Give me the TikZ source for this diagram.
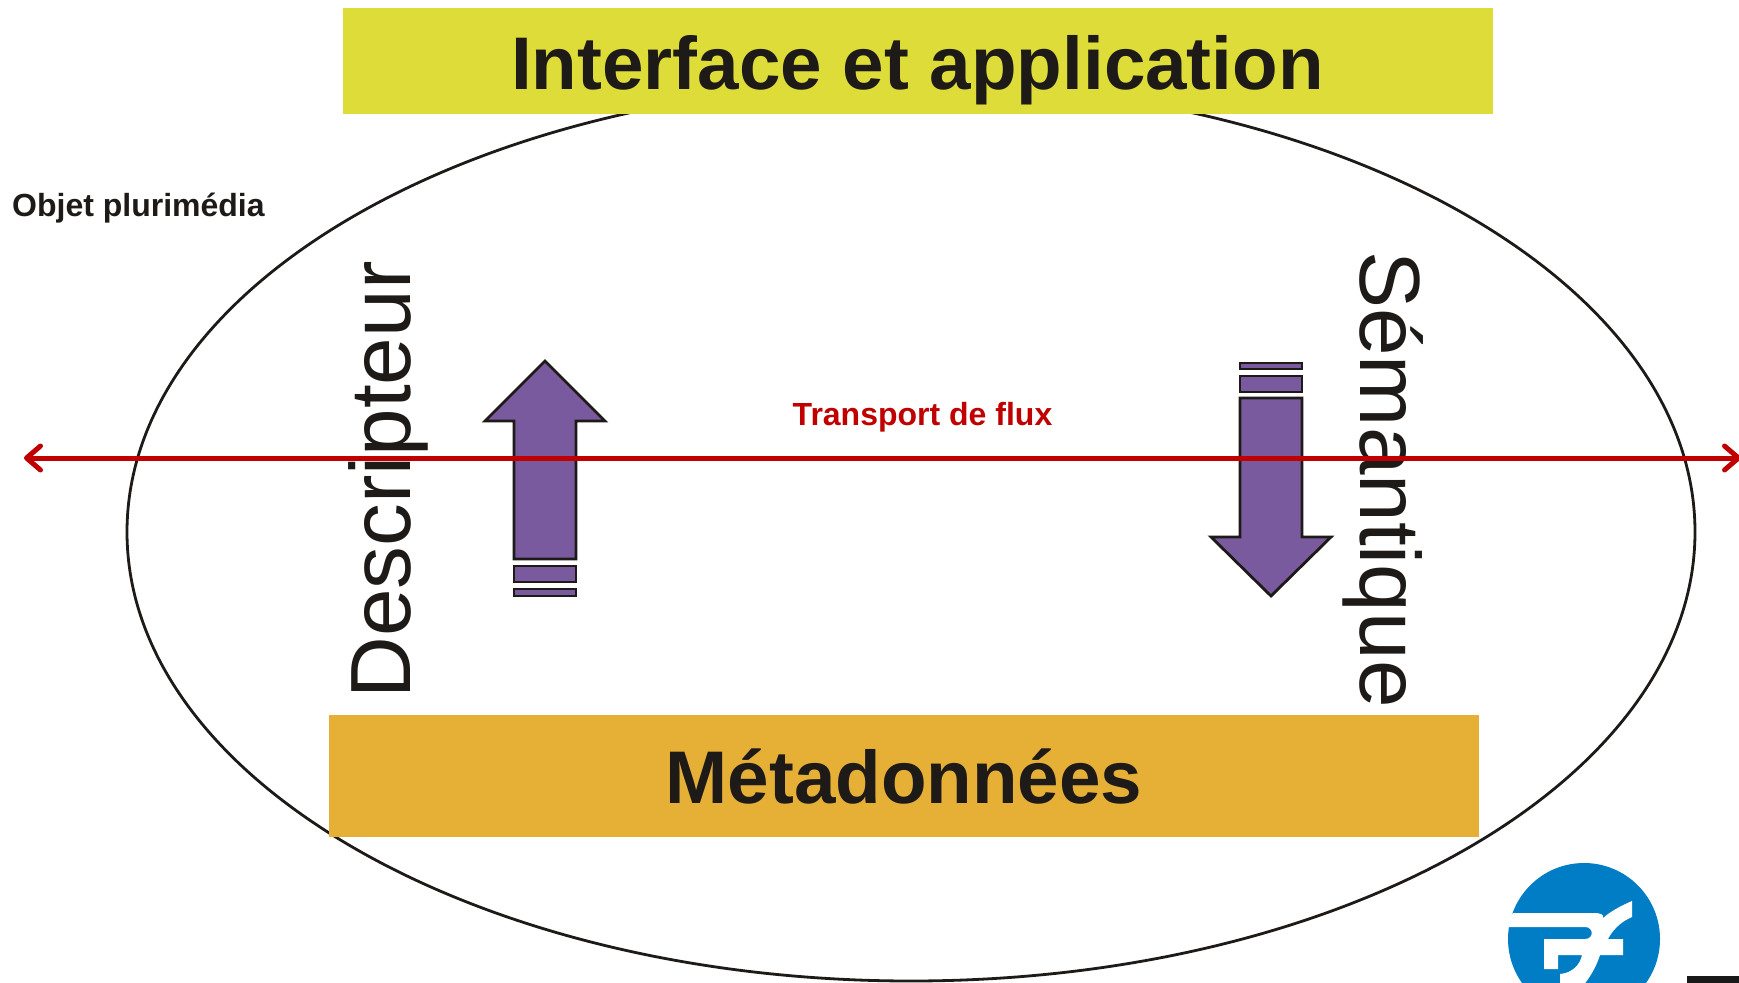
\documentclass[tikz,border=0pt]{standalone}
\usepackage{fontspec}
\setmainfont{Liberation Sans}
\usetikzlibrary{arrows.meta}
\definecolor{barjaune}{RGB}{222,220,56}
\definecolor{barorange}{RGB}{230,176,55}
\definecolor{violet}{RGB}{122,90,158}
\definecolor{encre}{RGB}{29,26,24}
\definecolor{rouge}{RGB}{192,0,0}
\definecolor{logobleu}{RGB}{0,125,197}
\tikzset{
	bar/.style={minimum width=1150pt,inner sep=0pt,text=encre,font=\fontsize{74.6}{74.6}\selectfont\bfseries},
	big/.style={inner sep=0pt,text=encre,font=\fontsize{85.5}{85.5}\selectfont},
	small/.style={inner sep=0pt,font=\fontsize{32}{32}\selectfont\bfseries},
	fleche/.style={draw=encre,fill=violet,line width=2.8pt,line join=miter},
	barbe/.style={rouge,line width=5pt,{Straight Barb[length=14pt,width=24pt,round]}-{Straight Barb[length=14pt,width=24pt,round]}}
}
\begin{document}
\begin{tikzpicture}[x=1pt,y=-1pt]
	\clip (0,0) rectangle (1739,982);
	\draw[encre,line width=2.8pt] (911,532) circle [x radius=784pt,y radius=449pt];
	\node[bar,fill=barjaune,minimum height=106pt,text height=72pt,text depth=16pt] (interface) at (917.5,61) {Interface et application};
	\node[bar,fill=barorange,minimum height=122pt] (meta) at (904,776) {Métadonnées};
	\node[small,text=encre,anchor=west] (objet) at (12,208) {Objet plurimédia};
	\node[big,rotate=90] (descripteur) at (388.5,480) {Descripteur};
	\node[big,rotate=-90] (semantique) at (1383,479.5) {Sémantique};
	% up
	\draw[fleche] (545,361) -- (605,421) -- (576,421) -- (576,559) -- (514,559) -- (514,421) -- (485,421) -- cycle;
	\draw[fleche] (514,566) rectangle (576,582);
	\draw[fleche] (514,589) rectangle (576,596);
	% down
	\draw[fleche] (1271,596) -- (1331,537) -- (1302,537) -- (1302,398) -- (1240,398) -- (1240,537) -- (1211,537) -- cycle;
	\draw[fleche] (1240,376) rectangle (1302,392);
	\draw[fleche] (1240,363) rectangle (1302,369);
	% flux
	\coordinate (fluxg) at (24,458);
	\coordinate (fluxd) at (1741,458);
	\draw[barbe] (fluxg) -- (fluxd);
	\node[small,text=rouge] (flux) at (922.5,417.5) {Transport de flux};
	% logo
	\fill[logobleu] (1584,939) circle [radius=76pt];
	\fill[white] (1513,913) -- (1593,913) .. controls (1600,913) and (1604,914) .. (1603,918) .. controls (1612,910) and (1625,904) .. (1632,901) -- (1632,917) .. controls (1620,922) and (1612,931) .. (1608,939) -- (1623,939) -- (1623,955) -- (1600,955) .. controls (1596,968) and (1588,980) .. (1582,987) -- (1560,987) -- (1560,974) .. controls (1572,973) and (1580,965) .. (1582,955) -- (1558,955) -- (1558,969) -- (1544,969) -- (1544,939) -- (1585,939) .. controls (1594,939) and (1594,927) .. (1585,927) -- (1505,927) -- cycle;
	\fill[black!90] (1687,976) rectangle (1745,990);
\end{tikzpicture}
\end{document}
